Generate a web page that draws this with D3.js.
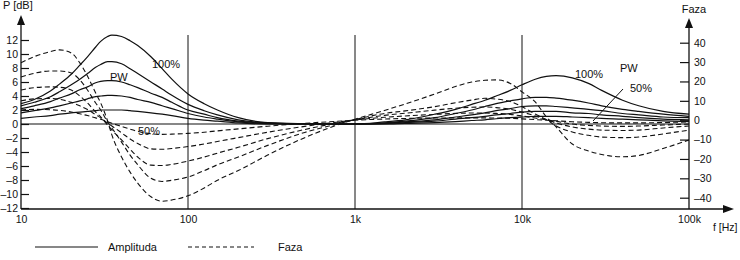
<!DOCTYPE html>
<html>
<head>
<meta charset="utf-8">
<script src="https://cdn.jsdelivr.net/npm/d3@7"></script>
<style>
  html, body { margin: 0; padding: 0; background: #fff; }
  svg { display: block; font-family: "Liberation Sans", Arial, sans-serif; }
  text { fill: #111; }
</style>
</head>
<body>
<svg id="chart" width="740" height="260"></svg>
<script>
// frequency grid (Hz)
const freqs = [10, 12, 15, 17, 20, 22.5, 25, 28, 30, 33, 35, 40, 45, 50, 60, 70, 80, 100, 125, 150,
    200, 300, 500, 700, 1000, 1500, 2000, 3000, 4000, 5000, 6000, 7000, 8500, 10000, 12000,
    14000, 16000, 20000, 25000, 30000, 40000, 50000, 70000, 100000];

// amplitude curves (dB), PW 100% ... 50%
const amp1 = [2.9, 3.5, 4.7, 5.7, 7.1, 8.4, 9.6, 11.0, 11.8, 12.5, 12.7, 12.5, 11.9, 11.2, 9.6, 7.9, 6.4, 4.3, 2.9, 2.0,
    0.9, 0.2, 0.05, 0, 0, 0.3, 0.6, 1.4, 2.1, 2.8, 3.4, 4.0, 4.8, 5.6, 6.4,
    6.8, 6.9, 6.6, 5.8, 4.8, 3.4, 2.6, 1.8, 1.4];
const amp2 = [2.6, 3.1, 3.9, 4.6, 5.6, 6.4, 7.2, 8.1, 8.5, 8.9, 8.9, 8.6, 7.9, 7.2, 6.0, 5.0, 4.1, 2.8, 1.9, 1.3,
    0.6, 0.15, 0, 0, 0, 0.15, 0.4, 0.9, 1.5, 2.0, 2.5, 2.9, 3.3, 3.6, 3.8,
    3.8, 3.7, 3.4, 3.0, 2.6, 2.1, 1.8, 1.4, 1.1];
const amp3 = [2.2, 2.6, 3.2, 3.7, 4.3, 4.9, 5.3, 5.9, 6.1, 6.2, 6.2, 6.0, 5.6, 5.2, 4.4, 3.8, 3.1, 2.0, 1.4, 0.9,
    0.4, 0.1, 0, 0, 0, 0.1, 0.3, 0.6, 1.0, 1.3, 1.6, 1.9, 2.2, 2.5, 2.6,
    2.6, 2.5, 2.3, 2.1, 1.9, 1.5, 1.3, 1.0, 0.9];
const amp4 = [1.6, 1.9, 2.3, 2.6, 3.0, 3.3, 3.6, 3.9, 4.0, 4.1, 4.1, 4.0, 3.8, 3.5, 3.1, 2.6, 2.2, 1.5, 1.0, 0.7,
    0.3, 0.05, 0, 0, 0, 0.05, 0.2, 0.4, 0.7, 0.9, 1.1, 1.3, 1.5, 1.7, 1.8,
    1.8, 1.8, 1.6, 1.5, 1.3, 1.1, 0.9, 0.7, 0.6];
const amp5 = [0.8, 1.0, 1.2, 1.4, 1.6, 1.7, 1.8, 1.9, 2.0, 2.0, 2.0, 2.0, 1.9, 1.8, 1.6, 1.4, 1.2, 0.8, 0.55, 0.4,
    0.15, 0, 0, 0, 0, 0, 0.1, 0.2, 0.35, 0.5, 0.6, 0.75, 0.9, 1.0, 1.1,
    1.1, 1.1, 1.0, 0.9, 0.8, 0.7, 0.6, 0.45, 0.35];

// phase curves (degrees), same order
const phase1 = [29.6, 32.8, 35.4, 36.3, 34.7, 29.6, 22.8, 14.0, 8.9, -0.4, -7.6, -19.0, -26.8, -32.5, -39.5, -41.8, -41.2, -39.0, -35.0, -31.0,
    -26.0, -18.0, -9.0, -4.0, 0.5, 5.0, 8.4, 13.5, 17.4, 19.7, 20.6, 20.8, 19.0, 14.6, 9.4,
    1.7, -3.5, -12.3, -15.9, -17.7, -18.9, -18.2, -14.6, -10.2];
const phase2 = [22.3, 24.2, 25.4, 25.4, 24.4, 20.8, 15.6, 8.9, 5.3, -0.9, -4.0, -11.3, -18.0, -23.0, -30.0, -31.6, -31.0, -29.3, -26.0, -23.0,
    -19.0, -13.0, -6.3, -3.0, 0.3, 3.5, 4.8, 7.0, 9.0, 10.4, 11.3, 10.9, 9.6, 7.0, 3.2,
    0.3, -3.0, -6.1, -7.8, -8.7, -9.0, -8.7, -7.1, -5.1];
const phase3 = [15.6, 16.8, 17.2, 17.0, 15.6, 12.5, 8.9, 4.2, 1.7, -2.5, -5.1, -10.2, -15.0, -19.0, -23.2, -23.4, -22.8, -21.1, -19.0, -17.0,
    -14.0, -9.5, -4.8, -2.2, 0.2, 2.5, 3.6, 5.2, 6.2, 6.7, 6.8, 6.5, 5.6, 4.2, 2.2,
    0.3, -1.4, -3.5, -4.6, -5.1, -5.3, -5.1, -4.0, -3.0];
const phase4 = [10.0, 11.0, 11.2, 10.8, 9.2, 7.4, 5.5, 2.8, 1.2, -1.5, -3.0, -6.5, -9.7, -12.0, -14.8, -15.0, -14.6, -13.6, -12.3, -11.0,
    -9.0, -6.2, -3.2, -1.5, 0.1, 1.5, 2.2, 3.0, 3.5, 3.7, 3.7, 3.5, 3.0, 2.2, 1.1,
    0.2, -0.6, -2.0, -2.7, -3.0, -3.2, -3.0, -2.5, -2.0];
const phase5 = [5.3, 5.6, 5.4, 5.1, 4.2, 3.3, 2.4, 1.2, 0.5, -0.8, -1.6, -3.2, -4.6, -5.8, -7.0, -7.3, -7.2, -6.8, -6.2, -5.5,
    -4.5, -3.1, -1.6, -0.8, 0, 0.6, 0.9, 1.1, 1.2, 1.2, 1.2, 1.1, 1.0, 0.7, 0.3,
    0, -0.3, -0.8, -1.1, -1.3, -1.4, -1.4, -1.2, -0.9];

const dbTicks = [-12, -10, -8, -6, -4, -2, 0, 2, 4, 6, 8, 10, 12];
const phaseTicks = [-40, -30, -20, -10, 0, 10, 20, 30, 40];
const freqTicks = [10, 100, 1000, 10000, 100000];
const freqTickLabels = ["10", "100", "1k", "10k", "100k"];

const ampCurves = [amp1, amp2, amp3, amp4, amp5];
const phaseCurves = [phase1, phase2, phase3, phase4, phase5];

const svg = d3.select("#chart");
const ink = "#111";
const fmtTick = d => (d < 0 ? "\u2013" : "") + Math.abs(d);

const x = d3.scaleLog().domain([10, 100000]).range([21, 689]);
const yL = d3.scaleLinear().domain([-12, 12]).range([208, 40]);
const yR = d3.scaleLinear().domain([-40, 40]).range([197.7, 42.7]);
const plotBottom = 209;

// vertical grid lines at decades
svg.append("g")
    .selectAll("line")
    .data(freqTicks.slice(1, 4))
    .enter().append("line")
    .attr("x1", d => x(d)).attr("x2", d => x(d))
    .attr("y1", 35).attr("y2", plotBottom)
    .attr("stroke", ink).attr("stroke-width", 1);

// zero line
svg.append("line")
    .attr("x1", x(10)).attr("x2", x(100000))
    .attr("y1", yL(0)).attr("y2", yL(0))
    .attr("stroke", ink).attr("stroke-width", 1.2);

// left axis
const leftAxis = svg.append("g")
    .attr("transform", `translate(${x(10)},0)`)
    .call(d3.axisLeft(yL).tickValues(dbTicks).tickFormat(fmtTick).tickSizeInner(-8).tickSizeOuter(0).tickPadding(3));
leftAxis.select(".domain").remove();

// right axis
const rightAxis = svg.append("g")
    .attr("transform", `translate(${x(100000)},0)`)
    .call(d3.axisRight(yR).tickValues(phaseTicks).tickFormat(fmtTick).tickSizeInner(-9).tickSizeOuter(0).tickPadding(5));
rightAxis.select(".domain").remove();

// bottom axis
const bottomAxis = svg.append("g")
    .attr("transform", `translate(0,${plotBottom})`)
    .call(d3.axisBottom(x).tickValues(freqTicks).tickFormat((d, i) => freqTickLabels[i]).tickSize(0).tickPadding(7));
bottomAxis.select(".domain").remove();

svg.selectAll(".tick text").style("font-size", "10.5px").attr("fill", ink);
svg.selectAll(".tick line").attr("stroke", ink).attr("stroke-width", 1.2);

// axis lines with arrows
svg.append("line").attr("x1", x(10)).attr("x2", x(10)).attr("y1", plotBottom).attr("y2", 22)
    .attr("stroke", ink).attr("stroke-width", 1.3);
svg.append("path").attr("d", `M${x(10)},15 L${x(10) - 4},25 L${x(10) + 4},25 Z`).attr("fill", ink);

svg.append("line").attr("x1", x(100000)).attr("x2", x(100000)).attr("y1", plotBottom).attr("y2", 25)
    .attr("stroke", ink).attr("stroke-width", 1.3);
svg.append("path").attr("d", `M${x(100000)},18 L${x(100000) - 4},28 L${x(100000) + 4},28 Z`).attr("fill", ink);

svg.append("line").attr("x1", x(10)).attr("x2", 726).attr("y1", plotBottom).attr("y2", plotBottom)
    .attr("stroke", ink).attr("stroke-width", 1.3);
svg.append("path").attr("d", `M734,${plotBottom} L723,${plotBottom - 4} L723,${plotBottom + 4} Z`).attr("fill", ink);

// axis titles
svg.append("text").attr("x", 3).attr("y", 9).style("font-size", "11px").text("P [dB]");
svg.append("text").attr("x", 694).attr("y", 13).attr("text-anchor", "middle").style("font-size", "11px").text("Faza");
svg.append("text").attr("x", 713).attr("y", 231).style("font-size", "10.5px").text("f [Hz]");

// curves
const ampLine = d3.line()
    .x((d, i) => x(freqs[i]))
    .y(d => yL(d))
    .curve(d3.curveMonotoneX);

const phaseLine = d3.line()
    .x((d, i) => x(freqs[i]))
    .y(d => yR(d))
    .curve(d3.curveMonotoneX);

svg.append("g")
    .selectAll("path")
    .data(phaseCurves)
    .enter().append("path")
    .attr("d", phaseLine)
    .attr("fill", "none")
    .attr("stroke", ink)
    .attr("stroke-width", 1.1)
    .attr("stroke-dasharray", "5,3");

svg.append("g")
    .selectAll("path")
    .data(ampCurves)
    .enter().append("path")
    .attr("d", ampLine)
    .attr("fill", "none")
    .attr("stroke", ink)
    .attr("stroke-width", 1.2);

// annotations
const note = (tx, ty, s) => svg.append("text").attr("x", tx).attr("y", ty).style("font-size", "11px").text(s);
note(152, 68, "100%");
note(110, 81, "PW");
note(138, 135, "50%");
note(575, 78, "100%");
note(620, 72, "PW");
note(630, 92, "50%");
svg.append("line").attr("x1", 623).attr("y1", 89).attr("x2", 593).attr("y2", 121)
    .attr("stroke", ink).attr("stroke-width", 1);

// legend
svg.append("line").attr("x1", 35).attr("x2", 98).attr("y1", 247).attr("y2", 247)
    .attr("stroke", ink).attr("stroke-width", 1.2);
svg.append("text").attr("x", 108).attr("y", 251).style("font-size", "11px").text("Amplituda");
svg.append("line").attr("x1", 188).attr("x2", 254).attr("y1", 247).attr("y2", 247)
    .attr("stroke", ink).attr("stroke-width", 1.1).attr("stroke-dasharray", "4,3");
svg.append("text").attr("x", 278).attr("y", 251).style("font-size", "11px").text("Faza");
</script>
</body>
</html>
